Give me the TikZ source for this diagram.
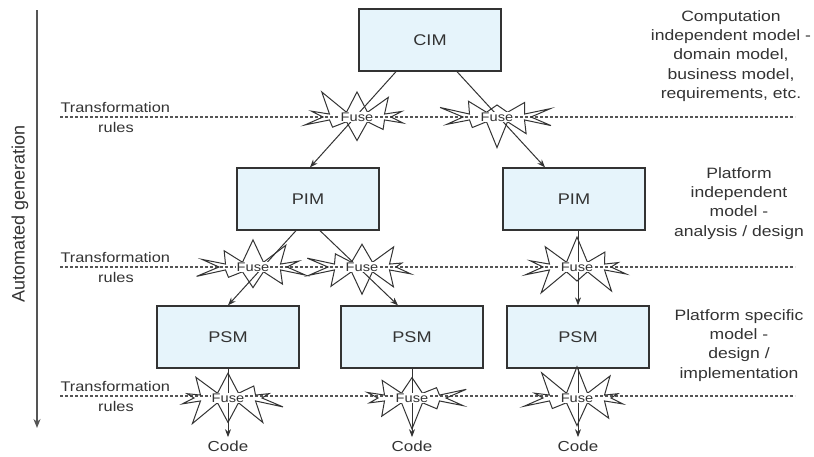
\documentclass[tikz,border=0pt]{standalone}
\usepackage{fontspec}
\setmainfont[FakeStretch=1.17]{Liberation Sans}
\newfontfamily\plainsans{Liberation Sans}
\usetikzlibrary{shapes.symbols,arrows.meta}
\definecolor{boxfill}{HTML}{E6F4FB}
\definecolor{ink}{HTML}{333333}
\definecolor{rulegray}{HTML}{555555}

\tikzset{
  model/.style={draw=ink, line width=1.3pt, fill=boxfill, text=ink,
    minimum width=142pt, minimum height=62pt, inner sep=0pt,
    font=\fontsize{15.5}{18}\selectfont},
  fuse/.style={starburst, starburst points=10, starburst point height=27pt,
    draw=ink, line width=1pt,
    minimum width=122pt, minimum height=64pt, inner sep=0pt},
  fusetext/.style={fill=white, text=ink, inner sep=1pt,
    font=\fontsize{12.5}{12.5}\selectfont},
  note/.style={text=ink, align=center, anchor=north,
    font=\fontsize{15}{19.2}\selectfont},
  rulelabel/.style={text=ink, font=\fontsize{14}{16}\selectfont},
  codelabel/.style={text=ink, font=\fontsize{14.5}{16}\selectfont},
  dashline/.style={rulegray, line width=1.2pt, dash pattern=on 3pt off 2pt},
  flow/.style={ink, line width=1pt, -{Stealth[length=8pt,width=6pt]}}
}

\begin{document}
\begin{tikzpicture}[x=1pt,y=-1pt]
  \useasboundingbox (0,0) rectangle (814,456);

  % automated generation axis
  \coordinate (gtop) at (37,10);
  \coordinate (gbot) at (37,428);
  \draw[rulegray, line width=1.5pt, -{Stealth[length=9pt,width=7pt]}] (gtop) -- (gbot);
  \node[rotate=90, text=ink, font=\plainsans\fontsize{18}{20}\selectfont] (gen) at (20,214) {Automated generation};

  % transformation rule lines
  \foreach \name/\y in {ruleA/117, ruleB/267, ruleC/396} {
    \coordinate (\name l) at (60,\y);
    \coordinate (\name r) at (795,\y);
    \draw[dashline] (\name l) -- (\name r);
    \node[rulelabel, anchor=west] (\name t) at (57,\y-10) {Transformation};
    \node[rulelabel] (\name s) at (116,\y+10) {rules};
  }

  % models
  \node[model] (cim) at (430,40) {CIM};
  \node[model] (pimA) at (308,199) {PIM};
  \node[model] (pimB) at (574,199) {PIM};
  \node[model] (psmA) at (228,337) {PSM};
  \node[model] (psmB) at (412,337) {PSM};
  \node[model] (psmC) at (578,337) {PSM};

  \node[codelabel] (codeA) at (228,446) {Code};
  \node[codelabel] (codeB) at (412,446) {Code};
  \node[codelabel] (codeC) at (578,446) {Code};

  % connectors
  \draw[flow] ([xshift=-34pt]cim.south) -- ([xshift=2pt]pimA.north);
  \draw[flow] ([xshift=27pt]cim.south) -- ([xshift=-29pt]pimB.north);
  \draw[flow] ([xshift=-12pt]pimA.south) -- (psmA.north);
  \draw[flow] ([xshift=12pt]pimA.south) -- ([xshift=-14pt]psmB.north);
  \draw[flow] (pimB.south -| psmC.north) -- (psmC.north);
  \draw[flow] (psmA.south) -- (codeA.north);
  \draw[flow] (psmB.south) -- (codeB.north);
  \draw[flow] (psmC.south) -- (codeC.north);

  % fuse stars
  \foreach \name/\x/\y/\seed in {fuseA/357/117/11, fuseB/497/117/23,
      fuseC/253/267/37, fuseD/362/267/41, fuseE/577/267/53,
      fuseF/228/398/67, fuseG/412/398/71, fuseH/577/398/89} {
    \node[fuse, random starburst=\seed] (\name) at (\x,\y) {};
    \node[fusetext] (\name t) at (\name) {Fuse};
  }

  % level notes
  \node[note] (cimnote) at (731,7) {Computation\\independent model -\\domain model,\\business model,\\requirements, etc.};
  \node[note] (pimnote) at (739,164) {Platform\\independent\\model -\\analysis / design};
  \node[note] (psmnote) at (739,306) {Platform specific\\model -\\design /\\implementation};
\end{tikzpicture}
\end{document}
